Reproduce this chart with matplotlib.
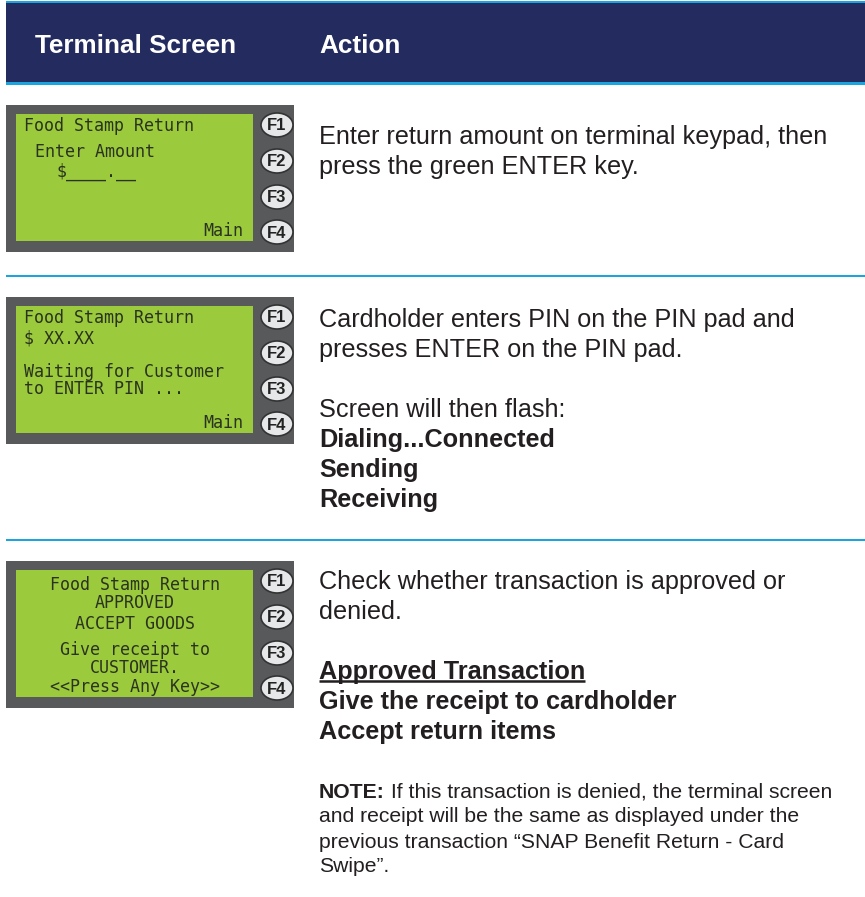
# terminal screen / action table for food stamp return

import matplotlib
matplotlib.use('Agg')
import matplotlib.pyplot as plt
from matplotlib.patches import Rectangle, Ellipse

NAVY = '#232b5f'
BLUE = '#1ba4dd'
GRAY = '#58595b'
LCD = '#9bcb3c'
LCD_TEXT = '#2b3320'
INK = '#231f20'

headers = ['Terminal Screen', 'Action']
buttons = ['F1', 'F2', 'F3', 'F4']

screen1 = ['Food Stamp Return', 'Enter Amount', '$____.__', 'Main']
screen2 = ['Food Stamp Return', '$ XX.XX', 'Waiting for Customer', 'to ENTER PIN ...', 'Main']
screen3 = ['Food Stamp Return', 'APPROVED', 'ACCEPT GOODS', 'Give receipt to',
           'CUSTOMER.', '<<Press Any Key>>']

action1 = ['Enter return amount on terminal keypad, then', 'press the green ENTER key.']
action1_bold = [False, False]
action2 = ['Cardholder enters PIN on the PIN pad and', 'presses ENTER on the PIN pad.', '',
           'Screen will then flash:', 'Dialing...Connected', 'Sending', 'Receiving']
action2_bold = [False, False, False, False, True, True, True]
action3 = ['Check whether transaction is approved or', 'denied.', '',
           'Approved Transaction', 'Give the receipt to cardholder', 'Accept return items']
action3_bold = [False, False, False, True, True, True]
note_label = 'NOTE:'
note_lines = [' If this transaction is denied, the terminal screen',
              'and receipt will be the same as displayed under the',
              'previous transaction \u201cSNAP Benefit Return - Card',
              'Swipe\u201d.']

plt.rcParams['font.family'] = ['Liberation Sans', 'DejaVu Sans']

fig = plt.figure(figsize=(8.65, 8.97), dpi=100)
ax = fig.add_axes([0, 0, 1, 1])
ax.set_xlim(0, 865)
ax.set_ylim(897, 0)
ax.axis('off')

# header band
ax.add_patch(Rectangle((6, 1), 859, 2.5, color=BLUE, lw=0))
ax.add_patch(Rectangle((6, 3.5), 859, 79, color=NAVY, lw=0))
ax.add_patch(Rectangle((6, 82), 859, 3, color=BLUE, lw=0))
ax.text(35, 46, headers[0], color='white', fontsize=18.8, fontweight='bold', va='center')
ax.text(319, 46, headers[1], color='white', fontsize=18.8, fontweight='bold', va='center')

# separators
for y in [276, 540]:
    ax.add_patch(Rectangle((6, y - 1), 859, 2.2, color=BLUE, lw=0))


def terminal(top, lines, xs, dys, aligns):
    ax.add_patch(Rectangle((6, top), 288, 147, color=GRAY, lw=0))
    ax.add_patch(Rectangle((16, top + 9), 237, 127, color=LCD, lw=0))
    for i, b in enumerate(buttons):
        yc = top + [20, 56, 92, 127][i]
        ax.add_patch(Ellipse((277, yc), 32, 24, facecolor='#e6e7e8',
                             edgecolor='#333333', lw=1.2))
        ax.text(277, yc + 1, b, fontsize=12, fontweight='bold', color='#222222',
                ha='center', va='center')
    for t, x, dy, ha in zip(lines, xs, dys, aligns):
        ax.text(x, top + dy, t, family='DejaVu Sans Mono', fontsize=12,
                color=LCD_TEXT, ha=ha, va='center')


terminal(105, screen1, [24, 35, 57, 243], [21, 47, 67, 126],
         ['left', 'left', 'left', 'right'])
terminal(297, screen2, [24, 24, 24, 24, 243], [21, 41, 75, 92, 126],
         ['left'] * 4 + ['right'])
terminal(561, screen3, [135] * 6, [24, 42, 63, 89, 107, 126], ['center'] * 6)


def action(y0, lines, bolds, step=30):
    out = []
    for i, (t, b) in enumerate(zip(lines, bolds)):
        out.append(ax.text(319, y0 + i * step, t, fontsize=18.2, color=INK, va='center',
                           fontweight='bold' if b else 'normal'))
    return out


action(137, action1, action1_bold)
action(320, action2, action2_bold)
a3 = action(582, action3, action3_bold)

# note with bold label
note_y = 792
lab = ax.text(319, note_y, note_label, fontsize=15.2, fontweight='bold', color=INK, va='center')
fig.canvas.draw()
r = fig.canvas.get_renderer()
inv = ax.transData.inverted()
bb = lab.get_window_extent(r)
x_end = inv.transform((bb.x1, bb.y0))[0]
for i, t in enumerate(note_lines):
    x = x_end if i == 0 else 319
    ax.text(x, note_y + i * 25, t, fontsize=15.2, color=INK, va='center')

# underline "Approved Transaction"
bb = a3[3].get_window_extent(r)
(x0, yb), (x1, _) = inv.transform([(bb.x0, bb.y0), (bb.x1, bb.y0)])
ax.plot([x0, x1], [yb - 3, yb - 3], color=INK, lw=1.8, solid_capstyle='butt')

fig.savefig('out.png', dpi=100)
